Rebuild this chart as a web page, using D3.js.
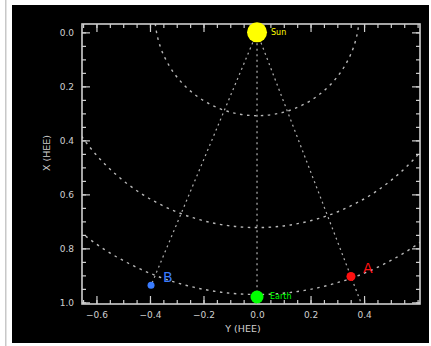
<!DOCTYPE html>
<html>
<head>
<meta charset="utf-8">
<script src="https://cdn.jsdelivr.net/npm/d3@7"></script>
<style>
  html, body { margin: 0; padding: 0; background: #ffffff; }
  svg { display: block; }
</style>
</head>
<body>
<svg id="chart" width="431" height="346"></svg>
<script>
// ---- data ----
const bodies = ["Sun", "Earth", "A", "B"];
const bodyX = [0.0, 0.0, 0.351, -0.396];
const bodyY = [0.0, 0.98, 0.904, 0.937];
const bodyColors = ["#ffff00", "#00ff00", "#ff1010", "#3a7cff"];
const bodySizes = [10, 6.5, 4.5, 3.5];
const bodyLabels = ["Sun", "Earth", "A", "B"];

// radial guide lines from the Sun
const rayEndX = [0.0, 0.388, -0.396];
const rayEndY = [0.98, 1.0, 0.937];

// distance arcs
const arcCenterY = -0.07;
const arcRadii = [0.382, 0.80, 1.05];

const xTicks = [-0.6, -0.4, -0.2, 0.0, 0.2, 0.4];
const yTicks = [0.0, 0.2, 0.4, 0.6, 0.8, 1.0];
const xTitle = "Y (HEE)";
const yTitle = "X (HEE)";

// ---- layout ----
const svg = d3.select("#chart");
svg.append("rect").attr("x", 5).attr("y", 0).attr("width", 1.5).attr("height", 346).attr("fill", "#c8c8c8");
svg.append("rect").attr("x", 12).attr("y", 5).attr("width", 417).attr("height", 338).attr("fill", "#000");

const L = 82, R = 420, T = 24, B = 304;
const x = d3.scaleLinear().domain([-0.654, 0.609]).range([L, R]);
const y = d3.scaleLinear().domain([-0.031, 1.006]).range([T, B]);

const g = svg.append("g");
const clip = svg.append("clipPath").attr("id", "clip");
clip.append("rect").attr("x", L).attr("y", T).attr("width", R - L).attr("height", B - T);

const plot = g.append("g").attr("clip-path", "url(#clip)");

// arcs
const pxPerUnit = x(1) - x(0);
plot.selectAll("circle.arc").data(arcRadii).join("circle")
  .attr("class", "arc")
  .attr("cx", x(0)).attr("cy", y(arcCenterY))
  .attr("r", d => d * pxPerUnit)
  .attr("fill", "none").attr("stroke", "#b8b8b8")
  .attr("stroke-width", 1.4).attr("stroke-dasharray", "2.5,4.5");

// rays
plot.selectAll("line.ray").data(rayEndX).join("line")
  .attr("class", "ray")
  .attr("x1", x(bodyX[0])).attr("y1", y(bodyY[0]))
  .attr("x2", (d, i) => x(d)).attr("y2", (d, i) => y(rayEndY[i]))
  .attr("stroke", "#b0b0b0").attr("stroke-width", 1.2).attr("stroke-dasharray", "2,3.5");

// frame + axes
const axisColor = "#cfcfcf";
const fontFam = "DejaVu Sans, sans-serif";

function minorTicks(lo, hi) {
  const out = [];
  for (let k = Math.ceil(lo / 0.05); k * 0.05 <= hi + 1e-9; k++) out.push(+(k * 0.05).toFixed(2));
  return out;
}
const xMinor = minorTicks(-0.65, 0.60);
const yMinor = minorTicks(-0.03, 1.0);

const axB = d3.axisBottom(x).tickValues(xMinor).tickSize(-4).tickFormat("");
const axT = d3.axisTop(x).tickValues(xMinor).tickSize(-4).tickFormat("");
const axL = d3.axisLeft(y).tickValues(yMinor).tickSize(-4).tickFormat("");
const axR = d3.axisRight(y).tickValues(yMinor).tickSize(-4).tickFormat("");
const axBM = d3.axisBottom(x).tickValues(xTicks).tickSize(-8).tickPadding(8).tickFormat(d => d3.format(".1f")(d).replace("-", "\u2212"));
const axTM = d3.axisTop(x).tickValues(xTicks).tickSize(-8).tickFormat("");
const axLM = d3.axisLeft(y).tickValues(yTicks).tickSize(-8).tickPadding(8).tickFormat(d3.format(".1f"));
const axRM = d3.axisRight(y).tickValues(yTicks).tickSize(-8).tickFormat("");

[[axB, `translate(0,${B})`], [axT, `translate(0,${T})`], [axL, `translate(${L},0)`], [axR, `translate(${R},0)`],
 [axBM, `translate(0,${B})`], [axTM, `translate(0,${T})`], [axLM, `translate(${L},0)`], [axRM, `translate(${R},0)`]]
.forEach(([ax, tr]) => {
  const a = g.append("g").attr("transform", tr).call(ax);
  a.select(".domain").remove();
  a.selectAll("line").attr("stroke", axisColor).attr("stroke-width", 1.2);
  a.selectAll("text").attr("fill", "#d0d0d0").attr("font-family", fontFam).attr("font-size", 9);
});

g.append("rect").attr("x", L).attr("y", T).attr("width", R - L).attr("height", B - T)
  .attr("fill", "none").attr("stroke", axisColor).attr("stroke-width", 1.6);

// axis titles
g.append("text").attr("x", (L + R) / 2 - 8).attr("y", 332).attr("text-anchor", "middle")
  .attr("fill", "#d0d0d0").attr("font-family", fontFam).attr("font-size", 9.5).text(xTitle);
g.append("text").attr("transform", `translate(50,${153}) rotate(-90)`).attr("text-anchor", "middle")
  .attr("fill", "#d0d0d0").attr("font-family", fontFam).attr("font-size", 9.5).text(yTitle);

// bodies
const idx = d3.range(bodies.length);
g.selectAll("circle.body").data(idx).join("circle")
  .attr("class", "body")
  .attr("cx", i => x(bodyX[i])).attr("cy", i => y(bodyY[i]))
  .attr("r", i => bodySizes[i]).attr("fill", i => bodyColors[i]);

// labels
const labelDx = [14, 13, 12, 12];
const labelDy = [0, 0, -7, -7];
const labelSize = [8, 8, 14, 14];
g.selectAll("text.lbl").data(idx).join("text")
  .attr("class", "lbl")
  .attr("x", i => x(bodyX[i]) + labelDx[i])
  .attr("y", i => y(bodyY[i]) + labelDy[i])
  .attr("dominant-baseline", "middle")
  .attr("fill", i => bodyColors[i])
  .attr("font-family", fontFam).attr("font-size", i => labelSize[i])
  .text(i => bodyLabels[i]);
</script>
</body>
</html>
